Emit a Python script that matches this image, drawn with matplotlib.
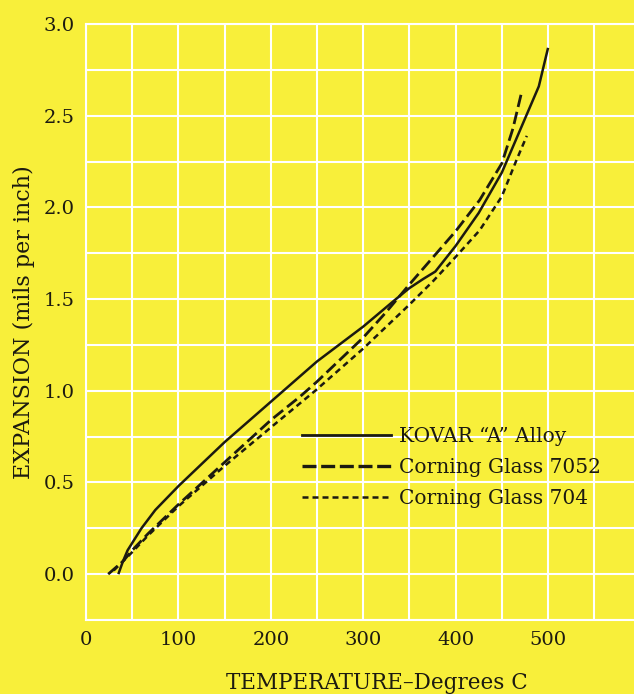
import matplotlib
matplotlib.use("Agg")
import matplotlib.pyplot as plt
from matplotlib.lines import Line2D
import numpy as np

# ---- data ----
kovar_temp = [35, 40, 45, 50, 60, 75, 100, 150, 200, 250, 300, 333, 350, 365, 378, 400, 425, 450, 473, 490, 500]
kovar_exp = [0.0, 0.07, 0.13, 0.17, 0.25, 0.35, 0.48, 0.72, 0.94, 1.16, 1.35, 1.49, 1.56, 1.61, 1.65, 1.79, 1.97, 2.19, 2.46, 2.66, 2.87]

glass7052_temp = [24, 40, 50, 67, 100, 150, 200, 232, 250, 300, 325, 350, 400, 426, 450, 462, 471]
glass7052_exp = [0.0, 0.07, 0.13, 0.22, 0.38, 0.61, 0.84, 0.97, 1.05, 1.29, 1.43, 1.58, 1.87, 2.04, 2.24, 2.43, 2.62]

glass704_temp = [30, 50, 67, 100, 150, 200, 248, 300, 350, 376, 400, 426, 450, 466, 477]
glass704_exp = [0.02, 0.12, 0.21, 0.37, 0.59, 0.80, 1.00, 1.23, 1.47, 1.60, 1.73, 1.875, 2.06, 2.26, 2.39]

labels = ['KOVAR \u201cA\u201d Alloy', 'Corning Glass 7052', 'Corning Glass 704']
x_ticks = [0, 100, 200, 300, 400, 500]
y_ticks = [0.0, 0.5, 1.0, 1.5, 2.0, 2.5, 3.0]

# ---- style ----
BG = '#f8ef3a'
INK = '#1c1a10'
plt.rcParams['font.family'] = ['DejaVu Serif']

fig = plt.figure(figsize=(6.34, 6.94), dpi=100)
fig.patch.set_facecolor(BG)
ax = fig.add_axes([86 / 634, 1 - 620 / 694, 548 / 634, (620 - 24) / 694])
ax.set_facecolor(BG)
ax.set_xlim(0, 593)
ax.set_ylim(-0.25, 3.0)

ax.set_xticks(x_ticks)
ax.set_xticks(np.arange(0, 600, 50), minor=True)
ax.set_yticks(y_ticks)
ax.set_yticks(np.arange(-0.25, 3.01, 0.25), minor=True)
ax.set_xticklabels([str(v) for v in x_ticks])
ax.set_yticklabels([f'{v:.1f}' for v in y_ticks])
ax.grid(which='both', color='white', lw=1.5)
ax.set_axisbelow(True)
ax.tick_params(which='both', length=0, labelsize=14, colors=INK)
ax.tick_params(axis='y', pad=8)
ax.tick_params(axis='x', pad=8)
for side in ['left', 'bottom', 'top']:
    ax.spines[side].set_color('white')
    ax.spines[side].set_linewidth(1.5)
ax.spines['right'].set_visible(False)

ax.plot(kovar_temp, kovar_exp, color=INK, lw=1.8, solid_capstyle='butt')
ax.plot(glass7052_temp, glass7052_exp, color=INK, lw=2.0, dashes=(4.5, 1.8))
ax.plot(glass704_temp, glass704_exp, color=INK, lw=1.8, dashes=(2.4, 1.7))

handles = [
    Line2D([], [], color=INK, lw=2.0),
    Line2D([], [], color=INK, lw=2.4, dashes=(4.2, 1.4)),
    Line2D([], [], color=INK, lw=1.8, dashes=(2.4, 1.6)),
]
leg = ax.legend(handles, labels, loc='upper left', bbox_to_anchor=(234, 0.805),
                bbox_transform=ax.transData, frameon=False, fontsize=14.5,
                handlelength=4.4, handletextpad=0.4, labelspacing=0.6,
                borderpad=0, borderaxespad=0)
for t in leg.get_texts():
    t.set_color(INK)

ax.set_xlabel('TEMPERATURE\u2013Degrees C', fontsize=15.5, color=INK)
ax.xaxis.set_label_coords(0.531, -0.088)
ax.set_ylabel('EXPANSION (mils per inch)', fontsize=16, color=INK, labelpad=6)

fig.savefig('out.png', dpi=100, facecolor=BG)
